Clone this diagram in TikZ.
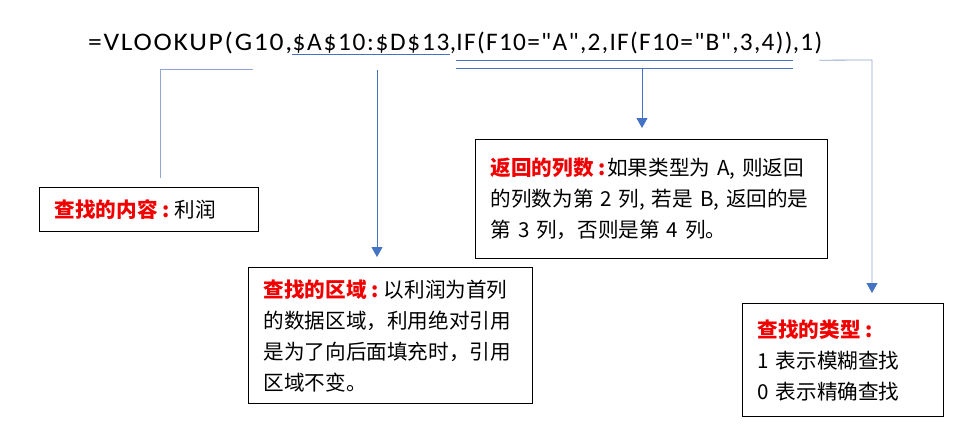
\documentclass[tikz,border=0pt]{standalone}
\usepackage{fontspec}
\setmainfont{Noto Sans CJK SC}
\newfontfamily\formulafont{Carlito}[LetterSpace=6.8]
\newfontfamily\formulalarga{Carlito}[LetterSpace=6.8,FakeStretch=1.09]
\usetikzlibrary{arrows.meta,calc,positioning}
\definecolor{lineablu}{RGB}{68,114,196}
\definecolor{lineachiara}{RGB}{143,165,210}
\definecolor{rosso}{RGB}{240,0,0}

\tikzset{
  pezzo/.style={inner sep=0pt, anchor=base west, font=\formulafont\fontsize{25.3}{30}\selectfont},
  largo/.style={font=\formulalarga\fontsize{25.3}{30}\selectfont},
  stretto/.style={font=\formulafont\addfontfeature{LetterSpace=5.2}\fontsize{25.3}{30}\selectfont},
  riquadro/.style={draw=black, line width=1.2pt, anchor=north west, align=left,
    inner xsep=15pt, inner ysep=0pt, font=\fontsize{20.6}{31}\selectfont},
  sottolinea/.style={lineablu, line width=0.8pt},
  freccia/.style={lineablu, line width=0.8pt, -{Triangle[width=11pt,length=10pt]}},
}
\newcommand{\etichetta}[2][5pt]{\textcolor{rosso}{\textbf{#2\hspace{5pt}:}}\hspace{#1}}

\begin{document}
\begin{tikzpicture}[x=1pt, y=-1pt]
        \useasboundingbox (0,0) rectangle (977,428);

        % Formula
        \node[pezzo, largo] (f1) at (88,50.5) {=VLOOKUP(G10,};
        \node[pezzo] (f2) at (f1.base east) {\$A\$10:\$D\$13};
        \node[pezzo] (f3) at (f2.base east) {,};
        \node[pezzo, stretto] (f4) at (f3.base east) {IF(F10="A",2,IF(F10="B",3,4))};
        \node[pezzo, stretto] (f5) at (f4.base east) {,1)};

        % Riquadri
        \node[riquadro, text width=189pt, minimum height=44pt] (contenuto) at (39,187)
            {\etichetta{查找的内容}利润};
        \node[riquadro, text width=254pt, minimum height=136pt] (area) at (248,267)
            {\etichetta{查找的区域}以利润为首列\\的数据区域，利用绝对引用\\是为了向后面填充时，引用\\区域不变。};
        \node[riquadro, text width=322pt, minimum height=119pt] (ritorno) at (475,139)
            {\etichetta[1.5pt]{返回的列数}如果类型为 A, 则返回\\的列数为第 2 列, 若是 B, 返回的是\\第 3 列，否则是第 4 列。};
        \node[riquadro, text width=171pt, minimum height=113pt] (tipo) at (742,303)
            {\etichetta{查找的类型}\\1 表示模糊查找\\0 表示精确查找};

        % Sottolineature
        \draw[sottolinea] ($(f2.base west)+(0,4.4)$) -- ($(f2.base east)+(0,4.4)$);
        \draw[sottolinea] ($(f4.base west)+(0,9.7)$) -- ($(f4.base east)+(0,9.7)$);
        \draw[sottolinea] ($(f4.base west)+(0,18.4)$) -- ($(f4.base east)+(0,18.4)$);

        % Collegamenti
        \coordinate (gInizio) at (253,69);
        \draw[lineachiara, line width=0.8pt] (gInizio) -| ([xshift=11.5pt,yshift=9pt]contenuto.north);

        \coordinate (aInizio) at (377,70);
        \draw[freccia] (aInizio) -- ([yshift=10pt]aInizio |- area.north);

        \coordinate (rInizio) at (642,69);
        \draw[freccia] (rInizio) -- ([yshift=11pt]rInizio |- ritorno.north);

        \coordinate (tAngolo) at (872,60);
        \draw[lineachiara, line width=0.8pt, -{Triangle[width=11pt,length=10pt,color=lineablu]}]
            ($(f5.base east)+(-3,9.7)$) -- (tAngolo) -- ([yshift=10pt]tAngolo |- tipo.north);
    \end{tikzpicture}
\end{document}
